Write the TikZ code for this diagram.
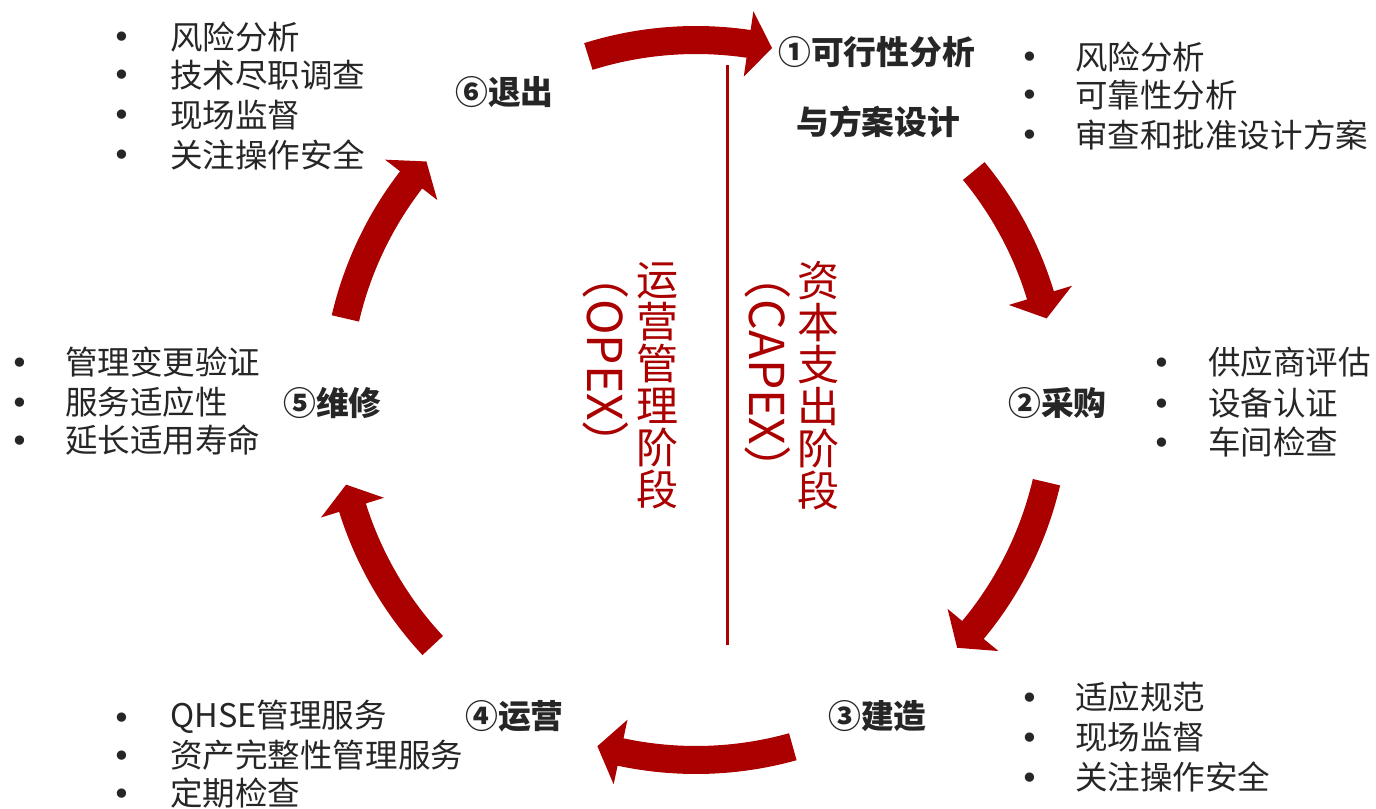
\documentclass[tikz,border=0pt]{standalone}
\usepackage{fontspec}
\setmainfont{Noto Sans CJK SC}
\newfontfamily\bulfont{DejaVu Sans}
\definecolor{arrowred}{RGB}{170,0,0}
\definecolor{txt}{RGB}{38,38,38}
\begin{document}
\begin{tikzpicture}[x=0.75pt,y=0.75pt,
  txtfont/.style={font=\fontsize{24.4pt}{29pt}\selectfont, text=txt, inner sep=0pt},
  item/.style={txtfont, anchor=west},
  bul/.style={font=\bulfont\fontsize{24pt}{24pt}\selectfont, text=txt, inner sep=0pt, anchor=base},
  stage/.style={font=\fontsize{24.6pt}{29pt}\selectfont\bfseries, text=txt, inner sep=0pt, anchor=west},
  vtext/.style={font=\fontsize{31.5pt}{31.5pt}\selectfont, text=arrowred, inner sep=0pt, align=center},
  vlatin/.style={font=\fontsize{36pt}{36pt}\selectfont, text=arrowred, inner sep=0pt, rotate=-90},
  cyc/.style={fill=arrowred}
]
\useasboundingbox[fill=white] (0,0) rectangle (1376,-809);

% cycle arrows
\begin{scope}[shift={(696,-400)}]
\foreach \a/\b in {107.4/77.8, 39.5/13.1, -13.2/-43.5, -74.4/-105.9, -137/-166.4, 166.9/138.5}{
  \pgfmathsetmacro\h{\b+3.8}
  \fill[cyc] (\a:374) arc[start angle=\a, end angle=\h, radius=374] -- (\h:393) -- (\b:360) -- (\h:327) -- (\h:346) arc[start angle=\h, end angle=\a, radius=346] -- cycle;
}
\end{scope}

% divider
\coordinate (ltop) at (727,-65);
\coordinate (lbot) at (727,-645);
\draw[arrowred, line width=2.25pt] (ltop) -- (lbot);

% vertical phase labels
\node[vtext] (capexcn) at (818,-385.5) {资\\本\\支\\出\\阶\\段};
\node[vtext] (opexcn) at (657,-385.5) {运\\营\\管\\理\\阶\\段};
\node[vlatin] (capexen) at (768,-372.5) {（CAPEX）};
\node[vlatin] (opexen) at (606,-360) {（OPEX）};

% stage labels
\node[stage] (s1a) at (778,-52) {①可行性分析};
\node[stage] (s1b) at (796,-122) {与方案设计};
\node[stage] (s2) at (1008,-403) {②采购};
\node[stage] (s3) at (828,-716) {③建造};
\node[stage] (s4) at (465,-716) {④运营};
\node[stage] (s5) at (283,-403) {⑤维修};
\node[stage] (s6) at (455,-92) {⑥退出};

% lists
\def\bo{12}
\foreach \y/\t [count=\i] in {37/风险分析, 75/技术尽职调查, 115/现场监督, 155/关注操作安全}{
  \node[bul] (tlb\i) at (122,-\y-\bo) {•};
  \node[item] (tl\i) at (170,-\y) {\t};
}
\foreach \y/\t [count=\i] in {57/风险分析, 95/可靠性分析, 135/审查和批准设计方案}{
  \node[bul] (trb\i) at (1030,-\y-\bo) {•};
  \node[item] (tr\i) at (1075,-\y) {\t};
}
\foreach \y/\t [count=\i] in {362/供应商评估, 403/设备认证, 442/车间检查}{
  \node[bul] (rb\i) at (1162,-\y-\bo) {•};
  \node[item] (r\i) at (1208,-\y) {\t};
}
\foreach \y/\t [count=\i] in {697/适应规范, 737/现场监督, 777/关注操作安全}{
  \node[bul] (brb\i) at (1030,-\y-\bo) {•};
  \node[item] (br\i) at (1075,-\y) {\t};
}
\foreach \y/\t [count=\i] in {717/QHSE管理服务, 755/资产完整性管理服务, 793/定期检查}{
  \node[bul] (blb\i) at (122,-\y-\bo) {•};
  \node[item] (bl\i) at (170,-\y) {\t};
}
\foreach \y/\t [count=\i] in {362/管理变更验证, 402/服务适应性, 440/延长适用寿命}{
  \node[bul] (lb\i) at (20,-\y-\bo) {•};
  \node[item] (l\i) at (65,-\y) {\t};
}
\end{tikzpicture}
\end{document}
